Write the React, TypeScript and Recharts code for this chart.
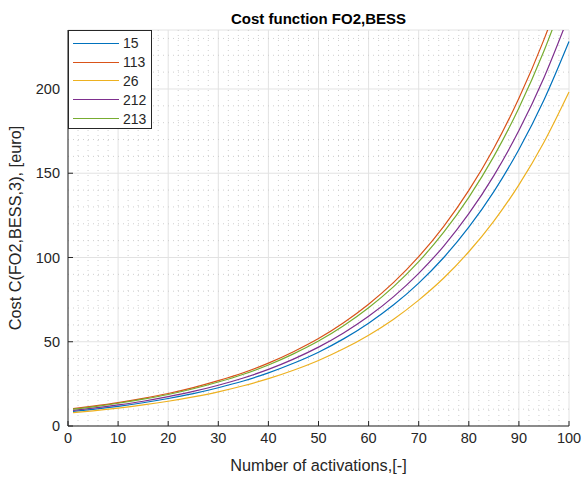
import React from 'react'
import {
  LineChart,
  Line,
  XAxis,
  YAxis,
  CartesianGrid,
  ReferenceLine
} from 'recharts'

const activations = [1, 5, 10, 15, 20, 25, 30, 35, 40, 45, 50, 55, 60, 65, 70, 75, 80, 85, 90, 95, 100]

const cost15 = [8.7, 9.9, 11.7, 13.8, 16.3, 19.2, 22.7, 26.7, 31.5, 37.2, 43.8, 51.7, 61.0, 71.9, 84.8, 100.0, 118.0, 139.1, 164.1, 193.5, 228.2]
const cost113 = [10.3, 11.8, 13.9, 16.4, 19.3, 22.8, 26.9, 31.6, 37.3, 44.1, 51.9, 61.3, 72.3, 85.2, 100.5, 118.5, 139.8, 164.8, 194.5, 229.3, 270.4]
const cost26 = [7.9, 9.0, 10.6, 12.5, 14.7, 17.3, 20.3, 23.9, 28.1, 33.1, 38.9, 45.8, 53.9, 63.4, 74.7, 87.8, 103.4, 121.6, 143.1, 168.4, 198.2]
const cost212 = [9.3, 10.6, 12.5, 14.7, 17.4, 20.5, 24.2, 28.5, 33.6, 39.7, 46.8, 55.2, 65.1, 76.8, 90.6, 106.8, 126.0, 148.6, 175.3, 206.7, 243.7]
const cost213 = [10.0, 11.4, 13.5, 15.9, 18.7, 22.1, 26.1, 30.7, 36.2, 42.8, 50.4, 59.5, 70.2, 82.7, 97.5, 115.0, 135.7, 160.0, 188.7, 222.5, 262.4]

const series = [
  { key: 's15', name: '15', values: cost15, color: '#0072BD' },
  { key: 's113', name: '113', values: cost113, color: '#D95319' },
  { key: 's26', name: '26', values: cost26, color: '#EDB120' },
  { key: 's212', name: '212', values: cost212, color: '#7E2F8E' },
  { key: 's213', name: '213', values: cost213, color: '#77AC30' }
]

const xTicks = [0, 10, 20, 30, 40, 50, 60, 70, 80, 90, 100]
const yTicks = [0, 50, 100, 150, 200]
const xMinor = [2, 4, 6, 8, 12, 14, 16, 18, 22, 24, 26, 28, 32, 34, 36, 38, 42, 44, 46, 48, 52, 54, 56, 58, 62, 64, 66, 68, 72, 74, 76, 78, 82, 84, 86, 88, 92, 94, 96, 98]
const yMinor = [10, 20, 30, 40, 60, 70, 80, 90, 110, 120, 130, 140, 160, 170, 180, 190, 210, 220, 230]

const data = activations.map((x, i) => {
  const row: Record<string, number> = { x }
  series.forEach(s => { row[s.key] = s.values[i] })
  return row
})

const font = '"Liberation Sans", Arial, Helvetica, sans-serif'
const axisColor = '#262626'

function LegendBox() {
  return (
    <div
      style={{
        position: 'absolute',
        left: 68,
        top: 30,
        width: 84,
        height: 99,
        border: `1px solid ${axisColor}`,
        background: '#fff',
        fontFamily: font,
        fontSize: 14,
        color: axisColor,
        boxSizing: 'border-box',
        paddingTop: 3
      }}
    >
      {series.map(s => (
        <div key={s.key} style={{ display: 'flex', alignItems: 'center', height: 18.8 }}>
          <div style={{ marginLeft: 4, width: 46, height: 0, borderTop: `1.2px solid ${s.color}` }} />
          <span style={{ marginLeft: 4 }}>{s.name}</span>
        </div>
      ))}
    </div>
  )
}

export default function App() {
  return (
    <div style={{ position: 'absolute', left: 0, top: 0, width: 584, height: 483, background: '#fff' }}>
      <div
        style={{
          position: 'absolute',
          left: 68,
          width: 501,
          top: 10,
          textAlign: 'center',
          fontFamily: font,
          fontWeight: 'bold',
          fontSize: 15,
          color: '#000'
        }}
      >
        Cost function FO2,BESS
      </div>
      <LineChart
        width={584}
        height={483}
        data={data}
        margin={{ top: 30, right: 15, bottom: 0, left: 0 }}
        style={{ fontFamily: font }}
      >
        <CartesianGrid stroke="#e2e2e2" strokeWidth={1} />
        {xMinor.map(v => (
          <ReferenceLine key={'vx' + v} x={v} stroke="#cfcfcf" strokeDasharray="1 4" />
        ))}
        {yMinor.map(v => (
          <ReferenceLine key={'hy' + v} y={v} stroke="#cfcfcf" strokeDasharray="1 4" />
        ))}
        <XAxis
          dataKey="x"
          type="number"
          domain={[0, 100]}
          ticks={xTicks}
          height={57}
          tickSize={-5}
          tickMargin={12}
          stroke={axisColor}
          tick={{ fill: axisColor, fontSize: 14.5 }}
          label={{
            content: (p: any) => (
              <text
                x={p.viewBox.x + p.viewBox.width / 2}
                y={p.viewBox.y + 45}
                textAnchor="middle"
                fill={axisColor}
                fontSize={16.3}
              >
                Number of activations,[-]
              </text>
            )
          }}
        />
        <XAxis
          xAxisId="top"
          orientation="top"
          type="number"
          domain={[0, 100]}
          ticks={xTicks}
          height={0}
          tickSize={-5}
          tick={false}
          stroke={axisColor}
        />
        <YAxis
          type="number"
          domain={[0, 235]}
          allowDataOverflow
          ticks={yTicks}
          width={68}
          tickSize={-5}
          tickMargin={13}
          stroke={axisColor}
          tick={{ fill: axisColor, fontSize: 14.5 }}
          label={{
            content: (p: any) => {
              const cx = 21
              const cy = p.viewBox.y + p.viewBox.height / 2
              return (
                <text
                  x={cx}
                  y={cy}
                  transform={`rotate(-90 ${cx} ${cy})`}
                  textAnchor="middle"
                  fill={axisColor}
                  fontSize={16.3}
                >
                  Cost C(FO2,BESS,3), [euro]
                </text>
              )
            }
          }}
        />
        <YAxis
          yAxisId="right"
          orientation="right"
          type="number"
          domain={[0, 235]}
          ticks={yTicks}
          width={0}
          tickSize={-5}
          tick={false}
          stroke={axisColor}
        />
        {series.map(s => (
          <Line
            key={s.key}
            dataKey={s.key}
            name={s.name}
            type="monotone"
            stroke={s.color}
            strokeWidth={1.2}
            dot={false}
            isAnimationActive={false}
          />
        ))}
      </LineChart>
      <LegendBox />
    </div>
  )
}
